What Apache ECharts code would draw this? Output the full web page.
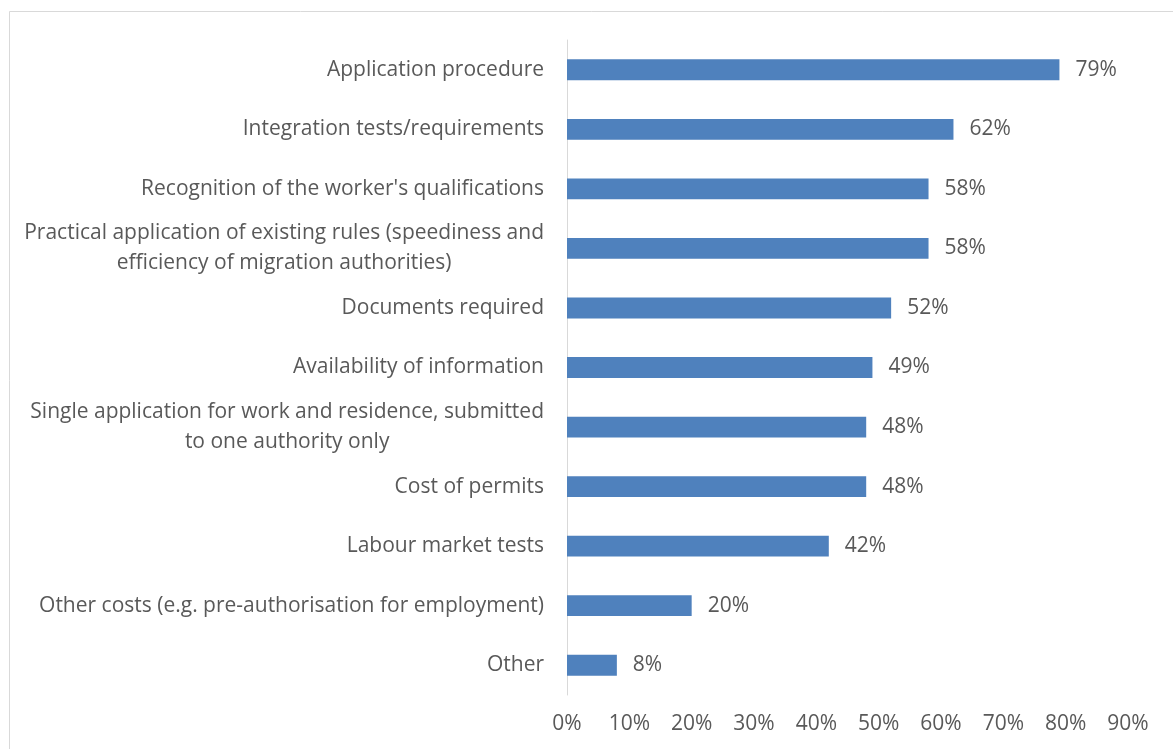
<!DOCTYPE html>
<html>
<head>
<meta charset="utf-8">
<script src="https://cdn.jsdelivr.net/npm/echarts@6/dist/echarts.min.js"></script>
<style>
  html, body { margin: 0; padding: 0; background: #fff; }
  #chart { width: 1173px; height: 749px; }
</style>
</head>
<body>
<div id="chart"></div>
<script>
// Categories, top to bottom
const categories = [
  "Application procedure",
  "Integration tests/requirements",
  "Recognition of the worker's qualifications",
  "Practical application of existing rules (speediness and\nefficiency of migration authorities)",
  "Documents required",
  "Availability of information",
  "Single application for work and residence, submitted\nto one authority only",
  "Cost of permits",
  "Labour market tests",
  "Other costs (e.g. pre-authorisation for employment)",
  "Other"
];
// Share of respondents, percent
const values = [79, 62, 58, 58, 52, 49, 48, 48, 42, 20, 8];
const axisMax = 90;
const axisStep = 10;

const textColor = '#595959';
const fontFamily = '"Open Sans", "Liberation Sans", sans-serif';
const fontSize = 21;

const chart = echarts.init(document.getElementById('chart'));
chart.setOption({
  animation: false,
  backgroundColor: '#ffffff',
  graphic: [{
    type: 'rect',
    shape: { x: 9.5, y: 11.5, width: 1300, height: 900 },
    style: { fill: 'none', stroke: '#d9d9d9', lineWidth: 1 },
    silent: true
  }],
  grid: { left: 567, right: 45, top: 40, bottom: 54, containLabel: false },
  xAxis: {
    type: 'value',
    min: 0,
    max: axisMax,
    interval: axisStep,
    axisLine: { show: false },
    axisTick: { show: false },
    splitLine: { show: false },
    axisLabel: {
      formatter: v => v + '%',
      color: textColor,
      fontFamily: fontFamily,
      fontSize: fontSize,
      margin: 19
    }
  },
  yAxis: {
    type: 'category',
    inverse: true,
    data: categories,
    axisLine: { show: true, lineStyle: { color: '#d9d9d9', width: 1 } },
    axisTick: { show: false },
    axisLabel: {
      color: textColor,
      fontFamily: fontFamily,
      fontSize: fontSize,
      margin: 23,
      lineHeight: 30,
      formatter: s => s.split('\n').map(l => '{c|' + l + '}').join('\n'),
      rich: {
        c: { align: 'center', color: textColor, fontFamily: fontFamily, fontSize: fontSize, lineHeight: 30 }
      }
    }
  },
  series: [{
    type: 'bar',
    data: values,
    barWidth: '35%',
    itemStyle: { color: '#4f81bd' },
    label: {
      show: true,
      position: 'right',
      distance: 16,
      formatter: p => p.value + '%',
      color: textColor,
      fontFamily: fontFamily,
      fontSize: fontSize
    }
  }]
});
</script>
</body>
</html>
